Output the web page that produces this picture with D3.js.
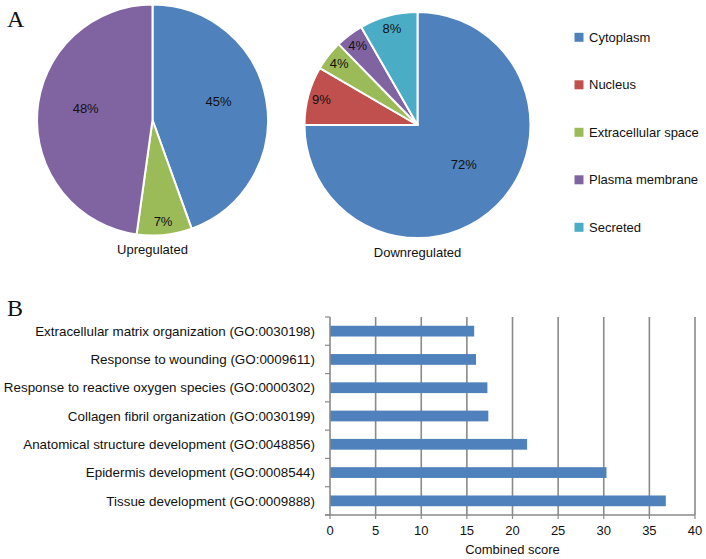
<!DOCTYPE html>
<html><head><meta charset="utf-8">
<script src="https://cdn.jsdelivr.net/npm/d3@7"></script>
<style>body{margin:0;background:#fff}svg{display:block}text{font-family:"Liberation Sans",Arial,sans-serif;fill:#111}</style>
</head><body><svg id="c" width="706" height="559"></svg>
<script>
// ---- data ----
const locations = ["Cytoplasm","Nucleus","Extracellular space","Plasma membrane","Secreted"];
const colors = ["#4F81BD","#C0504D","#9BBB59","#8064A2","#4BACC6"];
// slice sizes (as drawn) and printed labels
const upValues = [44.5, 0, 7.7, 47.8, 0];
const upLabels = ["45%", "", "7%", "48%", ""];
const downValues = [75, 8.4, 4.3, 4.0, 8.3];
const downLabels = ["72%", "9%", "4%", "4%", "8%"];
const goTerms = ["Extracellular matrix organization (GO:0030198)","Response to wounding (GO:0009611)","Response to reactive oxygen species (GO:0000302)","Collagen fibril organization (GO:0030199)","Anatomical structure development (GO:0048856)","Epidermis development (GO:0008544)","Tissue development (GO:0009888)"];
const goScores = [15.8, 16.0, 17.25, 17.35, 21.6, 30.3, 36.8];
const xTicks = [0,5,10,15,20,25,30,35,40];

const svg = d3.select("#c");

// panel letters
svg.append("text").attr("x",7).attr("y",27).text("A")
  .style("font-family","'Liberation Serif','Times New Roman',serif").style("font-size","24px");
svg.append("text").attr("x",7).attr("y",316).text("B")
  .style("font-family","'Liberation Serif','Times New Roman',serif").style("font-size","24px");

function drawPie(cx, cy, r, values, labels, title) {
  const g = svg.append("g").attr("transform",`translate(${cx},${cy})`);
  const data = values.map((v,i)=>({v, i}));
  const pie = d3.pie().value(d=>d.v).sort(null);
  const arcs = pie(data);
  const arc = d3.arc().innerRadius(0).outerRadius(r);
  g.selectAll("path").data(arcs.filter(a=>a.data.v>0)).join("path")
    .attr("d",arc).attr("fill",d=>colors[d.data.i])
    .attr("stroke","#fff").attr("stroke-width",2).attr("stroke-linejoin","round");
  g.selectAll("text.lbl").data(arcs.filter(a=>a.data.v>0)).join("text")
    .attr("class","lbl")
    .attr("transform",d=>{
      const f = d.data.v < 10 ? 0.88 : 0.58;
      const a = (d.startAngle+d.endAngle)/2;
      return `translate(${Math.sin(a)*r*f},${-Math.cos(a)*r*f})`;
    })
    .attr("text-anchor","middle").attr("dy", d => d.data.v < 10 ? "0.35em" : "-0.2em")
    .style("font-size","13px").text(d=>labels[d.data.i]);
  g.append("text").attr("x",0).attr("y",r+14).attr("dy","0.35em")
    .attr("text-anchor","middle").style("font-size","13px").text(title);
}
drawPie(152.5, 120, 115.5, upValues, upLabels, "Upregulated");
drawPie(417.5, 125, 113, downValues, downLabels, "Downregulated");

// legend
const leg = svg.append("g");
const ly = d3.scalePoint().domain(locations).range([37.3, 227.3]);
leg.selectAll("rect").data(locations).join("rect")
  .attr("x",574.5).attr("y",d=>ly(d)-4.5).attr("width",9).attr("height",9)
  .attr("fill",(d,i)=>colors[i]);
leg.selectAll("text").data(locations).join("text")
  .attr("x",589).attr("y",d=>ly(d)).attr("dy","0.35em")
  .style("font-size","13px").text(d=>d);

// bar chart
const x = d3.scaleLinear().domain([0,40]).range([330,695]);
const y = d3.scaleBand().domain(goTerms).range([317,515]).paddingInner(0.62).paddingOuter(0.31);
const grid = "#8a8a8a";
svg.append("g").selectAll("line").data(xTicks.slice(1)).join("line")
  .attr("x1",d=>x(d)).attr("x2",d=>x(d)).attr("y1",317).attr("y2",515)
  .attr("stroke",grid).attr("stroke-width",1.6);
svg.append("g").selectAll("rect").data(goTerms).join("rect")
  .attr("x",x(0)).attr("y",d=>y(d)).attr("height",y.bandwidth())
  .attr("width",(d,i)=>x(goScores[i])-x(0)).attr("fill","#4F81BD");
// y axis
const step = y.step();
const yb = svg.append("g");
yb.append("line").attr("x1",x(0)).attr("x2",x(0)).attr("y1",317).attr("y2",515).attr("stroke",grid).attr("stroke-width",1.6);
yb.selectAll("line.t").data(d3.range(goTerms.length+1)).join("line").attr("class","t")
  .attr("x1",x(0)-5).attr("x2",x(0)).attr("y1",i=>317+i*step).attr("y2",i=>317+i*step)
  .attr("stroke",grid).attr("stroke-width",1.2);
yb.selectAll("text").data(goTerms).join("text")
  .attr("x",315).attr("y",d=>y(d)+y.bandwidth()/2).attr("dy","0.35em")
  .attr("text-anchor","end").style("font-size","13.4px").text(d=>d);
// x axis
const xa = svg.append("g");
xa.append("line").attr("x1",x(0)-5).attr("x2",x(40)).attr("y1",515).attr("y2",515).attr("stroke",grid).attr("stroke-width",1.6);
xa.selectAll("line.t").data(xTicks).join("line").attr("class","t")
  .attr("x1",d=>x(d)).attr("x2",d=>x(d)).attr("y1",515).attr("y2",519)
  .attr("stroke",grid).attr("stroke-width",1.2);
xa.selectAll("text").data(xTicks).join("text")
  .attr("x",d=>x(d)).attr("y",530).attr("dy","0.35em")
  .attr("text-anchor","middle").style("font-size","13px").text(d=>d);
svg.append("text").attr("x",(x(0)+x(40))/2).attr("y",549).attr("dy","0.35em")
  .attr("text-anchor","middle").style("font-size","13px").text("Combined score");
</script></body></html>
